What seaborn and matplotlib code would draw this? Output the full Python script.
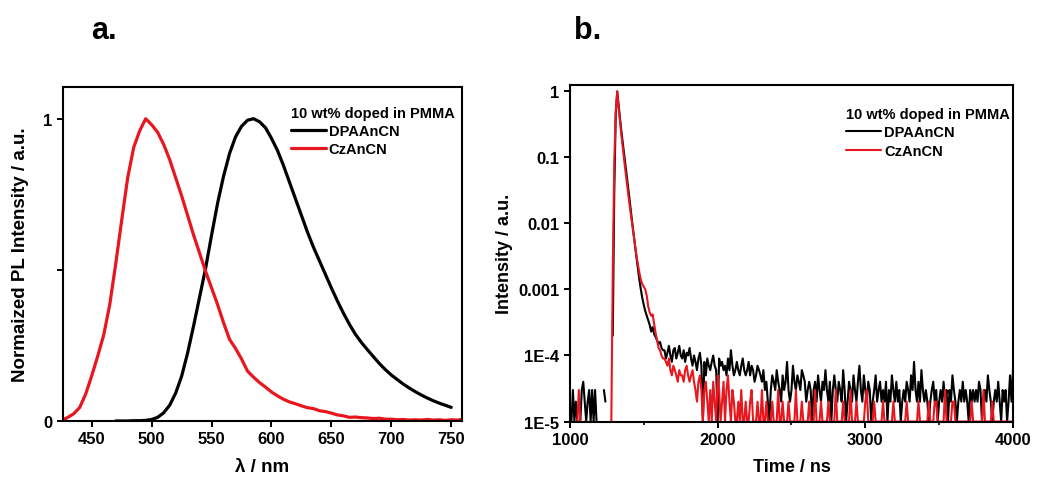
import numpy as np
import pandas as pd
import matplotlib
matplotlib.use("Agg")
import matplotlib.pyplot as plt
import seaborn as sns
from matplotlib.ticker import FixedLocator, FixedFormatter, MultipleLocator, NullLocator

# ---- panel a: normalized PL spectra (10 wt% doped in PMMA) ----
dpa_wl = list(range(470, 751, 5))
dpa_pl = [0, 0, 0, 0.001, 0.001, 0.002, 0.005, 0.012, 0.027, 0.052,
          0.092, 0.148, 0.225, 0.315, 0.41, 0.505, 0.615, 0.72, 0.81, 0.885,
          0.94, 0.975, 0.995, 1.0, 0.99, 0.97, 0.935, 0.895, 0.845, 0.79,
          0.735, 0.68, 0.625, 0.575, 0.53, 0.485, 0.44, 0.397, 0.357, 0.32,
          0.287, 0.26, 0.236, 0.213, 0.19, 0.17, 0.152, 0.137, 0.122, 0.109,
          0.097, 0.086, 0.076, 0.067, 0.059, 0.052, 0.045]

cz_wl = [426, 430] + list(range(435, 761, 5))
cz_pl = [0.004, 0.012, 0.024, 0.045, 0.09, 0.15, 0.215, 0.285, 0.385, 0.52,
         0.665, 0.805, 0.905, 0.96, 1.0, 0.98, 0.955, 0.915, 0.865, 0.805,
         0.745, 0.68, 0.615, 0.555, 0.495, 0.44, 0.385, 0.325, 0.27, 0.24,
         0.205, 0.165, 0.145, 0.127, 0.112, 0.096, 0.083, 0.072, 0.063, 0.057,
         0.05, 0.044, 0.041, 0.034, 0.031, 0.026, 0.02, 0.017, 0.012, 0.013,
         0.011, 0.01, 0.008, 0.009, 0.006, 0.006, 0.004, 0.005, 0.003, 0.004,
         0.003, 0.005, 0.003, 0.004, 0.002, 0.004, 0.003, 0.006]

# ---- panel b: transient PL decay, 10 ns channels starting at 1000 ns ----
t_start = 1000
t_step = 10
count_unit = 1e-5  # one count in normalized units

# DPAAnCN: background counts 1000-1280 ns
dpa_pre_counts = [0, 1, 3, 1, 2, 1, 0, 1, 3, 4, 2, 1, 2, 3, 1, 3, 1, 3, 1, 0,
                  0, 0, 0, 3, 2, 0, 0, 0, 0]
# rise + decay 1290-1630 ns
dpa_decay = [0.0002, 0.03, 0.45, 1.0, 0.6, 0.37, 0.23, 0.15, 0.1, 0.065,
             0.042, 0.027, 0.017, 0.011, 0.0072, 0.0047, 0.0031, 0.0021, 0.0014, 0.001,
             0.00074, 0.00058, 0.00047, 0.0004, 0.00034, 0.00029, 0.00023, 0.00027, 0.00021, 0.00019,
             0.00017, 0.00015, 0.00016, 0.00013, 0.00012]
# tail counts 1640-4000 ns
dpa_tail_counts = [12, 9, 11, 14, 10, 8, 12, 13, 9, 11, 14, 10, 9, 12, 8, 11, 10, 13, 9, 7,
                   10, 8, 6, 9, 11, 7, 1, 8, 5, 9, 7, 6, 8, 10, 7, 6, 1, 9, 7, 8,
                   6, 7, 5, 9, 6, 12, 7, 5, 6, 8, 6, 5, 7, 9, 6, 5, 6, 8, 5, 7,
                   6, 4, 5, 7, 6, 5, 4, 6, 3, 4, 2, 1, 3, 5, 4, 3, 6, 4, 3, 2,
                   5, 3, 4, 8, 3, 2, 3, 7, 4, 3, 5, 4, 3, 6, 5, 4, 2, 3, 4, 3,
                   1, 3, 4, 2, 5, 3, 2, 4, 3, 6, 3, 2, 4, 1, 3, 5, 3, 2, 4, 3,
                   2, 6, 3, 1, 2, 4, 3, 2, 5, 3, 2, 4, 7, 3, 2, 5, 3, 2, 4, 3,
                   1, 2, 3, 5, 2, 3, 4, 2, 3, 2, 4, 1, 3, 2, 5, 3, 2, 4, 2, 3,
                   1, 2, 3, 2, 4, 3, 2, 5, 3, 8, 3, 2, 4, 2, 6, 3, 2, 3, 2, 1,
                   2, 3, 4, 2, 3, 1, 2, 3, 2, 4, 2, 3, 1, 3, 2, 5, 3, 2, 1, 2,
                   3, 2, 4, 2, 3, 2, 1, 3, 2, 3, 2, 3, 2, 4, 3, 1, 2, 3, 2, 5,
                   3, 2, 1, 2, 3, 2, 4, 2, 1, 3, 2, 3, 1, 2, 5, 2, 6]

# CzAnCN
cz_pre_counts = [0, 0, 0, 0, 0, 1, 3, 1, 0, 0, 1, 1, 0, 0, 0, 0, 0, 0, 0, 0,
                 0, 0, 0, 0, 0, 0, 0, 0, 1]
cz_decay = [0.002, 0.08, 0.5, 1.0, 0.55, 0.33, 0.2, 0.125, 0.08, 0.052,
            0.034, 0.022, 0.015, 0.01, 0.0068, 0.0047, 0.0033, 0.0024, 0.0018, 0.0014,
            0.0012, 0.0011, 0.001, 0.0008, 0.00055, 0.00045, 0.0004, 0.00042, 0.0003, 0.00022,
            0.00017, 0.00013, 0.00012, 0.0001, 0.00009]
cz_tail_counts = [9, 8, 7, 9, 6, 5, 7, 6, 5, 4, 6, 5, 5, 4, 6, 7, 5, 4, 5, 6,
                  4, 3, 2, 4, 5, 3, 1, 3, 4, 2, 1, 3, 1, 4, 2, 1, 5, 3, 1, 2,
                  4, 1, 3, 5, 2, 1, 3, 2, 1, 1, 2, 1, 3, 1, 1, 2, 1, 1, 2, 3,
                  1, 1, 1, 2, 1, 1, 3, 1, 1, 2, 1, 1, 1, 2, 1, 1, 1, 3, 1, 1,
                  2, 1, 1, 1, 2, 1, 1, 1, 1, 3, 1, 1, 1, 2, 1, 1, 1, 1, 2, 1,
                  1, 1, 3, 1, 1, 1, 2, 1, 1, 1, 1, 2, 1, 1, 1, 1, 3, 1, 1, 1,
                  1, 2, 1, 1, 1, 1, 3, 1, 1, 1, 2, 1, 1, 1, 1, 1, 2, 3, 1, 1,
                  1, 1, 2, 1, 1, 1, 1, 1, 2, 1, 1, 1, 1, 1, 1, 2, 1, 1, 1, 1,
                  1, 1, 1, 1, 2, 1, 1, 1, 1, 1, 1, 1, 2, 1, 1, 1, 1, 1, 1, 2,
                  1, 1, 1, 2, 2, 1, 1, 1, 1, 1, 3, 1, 1, 1, 1, 2, 2, 1, 1, 1,
                  1, 1, 1, 1, 1, 1, 1, 1, 2, 1, 1, 1, 1, 1, 1, 1, 3, 1, 1, 1,
                  1, 1, 2, 1, 1, 1, 1, 1, 1, 1, 1, 1, 1, 1, 1, 1, 1]


def decay_series(pre, decay, tail):
    vals = np.concatenate([np.array(pre) * count_unit, decay, np.array(tail) * count_unit])
    vals[vals <= 0] = np.nan  # empty channels leave gaps on the log axis
    t = t_start + t_step * np.arange(len(vals))
    return t, vals


t_dpa, i_dpa = decay_series(dpa_pre_counts, dpa_decay, dpa_tail_counts)
t_cz, i_cz = decay_series(cz_pre_counts, cz_decay, cz_tail_counts)

# ---- style ----
sns.set_theme(style="ticks")
plt.rcParams['font.family'] = ['Liberation Sans', 'DejaVu Sans']
plt.rcParams['font.weight'] = 'bold'
plt.rcParams['axes.labelweight'] = 'bold'
plt.rcParams['axes.linewidth'] = 1.5
plt.rcParams['xtick.major.width'] = 1.4
plt.rcParams['ytick.major.width'] = 1.4
plt.rcParams['xtick.minor.width'] = 1.2
plt.rcParams['xtick.major.size'] = 4
plt.rcParams['ytick.major.size'] = 4
plt.rcParams['xtick.minor.size'] = 2.5
for key in ['xtick.color', 'ytick.color', 'axes.edgecolor', 'text.color', 'axes.labelcolor']:
    plt.rcParams[key] = 'black'

RED = '#e8161e'

fig = plt.figure(figsize=(10.38, 4.81), dpi=100)
ax1 = fig.add_axes([0.0607, 0.1227, 0.3844, 0.6944])
ax2 = fig.add_axes([0.5491, 0.1216, 0.4268, 0.6996])

# panel a
sns.lineplot(x=dpa_wl, y=dpa_pl, ax=ax1, color='black', lw=2.3, label='DPAAnCN')
sns.lineplot(x=cz_wl, y=cz_pl, ax=ax1, color=RED, lw=2.3, label='CzAnCN')
ax1.set_xlim(426, 759)
ax1.set_ylim(0, 1.105)
ax1.xaxis.set_major_locator(FixedLocator([450, 500, 550, 600, 650, 700, 750]))
ax1.yaxis.set_major_locator(FixedLocator([0, 0.5, 1]))
ax1.yaxis.set_major_formatter(FixedFormatter(['0', '', '1']))
ax1.set_xlabel('λ / nm', fontsize=13.5, labelpad=8)
ax1.set_ylabel('Normaized PL Intensity / a.u.', fontsize=13.5, labelpad=10)

# panel b
ax2.plot(t_dpa, i_dpa, color='black', lw=1.5, label='DPAAnCN')
ax2.plot(t_cz, i_cz, color=RED, lw=1.5, label='CzAnCN')
ax2.set_yscale('log')
ax2.set_xlim(1000, 4000)
ax2.set_ylim(1e-5, 1.25)
ax2.xaxis.set_major_locator(MultipleLocator(1000))
ax2.xaxis.set_minor_locator(MultipleLocator(500))
ax2.yaxis.set_major_locator(FixedLocator([1e-5, 1e-4, 1e-3, 1e-2, 0.1, 1]))
ax2.yaxis.set_major_formatter(FixedFormatter(['1E-5', '1E-4', '0.001', '0.01', '0.1', '1']))
ax2.yaxis.set_minor_locator(NullLocator())
ax2.set_xlabel('Time / ns', fontsize=13, labelpad=8)
ax2.set_ylabel('Intensity / a.u.', fontsize=13, labelpad=4)

for ax, anchor in [(ax1, (0.545, 0.975)), (ax2, (0.6, 0.965))]:
    ax.tick_params(axis='both', which='both', direction='out', labelsize=12)
    for lab in ax.get_xticklabels() + ax.get_yticklabels():
        lab.set_fontweight('bold')
    leg = ax.legend(title='10 wt% doped in PMMA', loc='upper left', bbox_to_anchor=anchor,
                    frameon=False, fontsize=10.5, title_fontsize=10.5, handlelength=2.4,
                    handletextpad=0.2, labelspacing=0.3, borderpad=0.2, alignment='left')
    leg.get_title().set_fontweight('bold')
    for txt in leg.get_texts():
        txt.set_fontweight('bold')

fig.text(0.088, 0.935, 'a.', fontsize=22, fontweight='bold', ha='left', va='center')
fig.text(0.553, 0.935, 'b.', fontsize=22, fontweight='bold', ha='left', va='center')

fig.savefig('out.png', dpi=100)
